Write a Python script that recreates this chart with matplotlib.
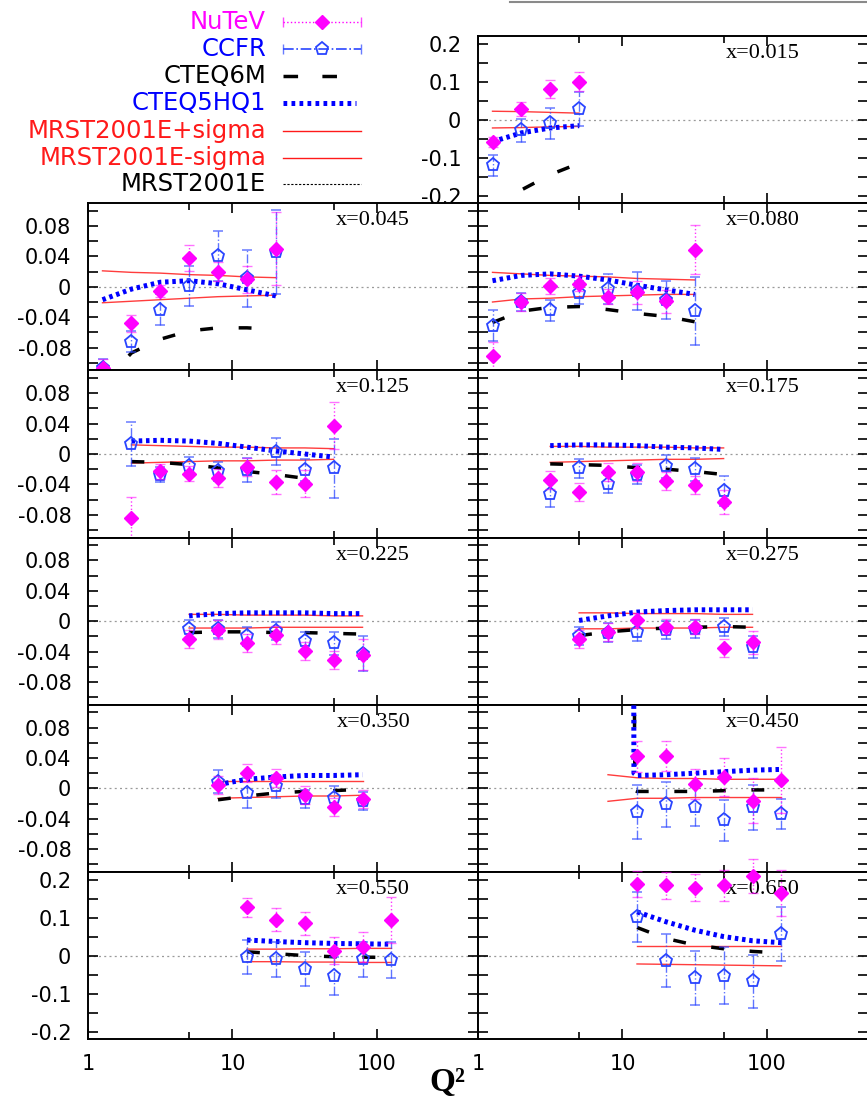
import matplotlib
matplotlib.use("Agg")
import matplotlib.pyplot as plt
from matplotlib.lines import Line2D
from matplotlib.ticker import FixedLocator, MultipleLocator, FuncFormatter, NullFormatter

plt.rcParams['font.family'] = 'DejaVu Sans'
plt.rcParams['axes.unicode_minus'] = False

# x-bin of each panel, in drawing order (top-right first, then row by row)
x_bins = ["0.015", "0.045", "0.080", "0.125", "0.175", "0.225",
          "0.275", "0.350", "0.450", "0.550", "0.650"]

# Q^2 of the data points in each panel
q_data = [
    [1.26, 2.0, 3.16, 5.01],
    [1.26, 2.0, 3.16, 5.01, 7.94, 12.6, 20.0],
    [1.26, 2.0, 3.16, 5.01, 7.94, 12.6, 20.0, 31.6],
    [2.0, 3.16, 5.01, 7.94, 12.6, 20.0, 31.6, 50.1],
    [3.16, 5.01, 7.94, 12.6, 20.0, 31.6, 50.1],
    [5.01, 7.94, 12.6, 20.0, 31.6, 50.1, 79.4],
    [5.01, 7.94, 12.6, 20.0, 31.6, 50.1, 79.4],
    [7.94, 12.6, 20.0, 31.6, 50.1, 79.4],
    [12.6, 20.0, 31.6, 50.1, 79.4, 125.9],
    [12.6, 20.0, 31.6, 50.1, 79.4, 125.9],
    [12.6, 20.0, 31.6, 50.1, 79.4, 125.9],
]

nutev = [
    [-0.059, 0.027, 0.081, 0.100],
    [-0.107, -0.048, -0.005, 0.038, 0.020, 0.010, 0.050],
    [-0.091, -0.020, 0.001, 0.004, -0.013, -0.007, -0.019, 0.049],
    [-0.084, -0.023, -0.026, -0.032, -0.017, -0.037, -0.039, 0.037],
    [-0.034, -0.050, -0.024, -0.024, -0.036, -0.041, -0.063],
    [-0.023, -0.011, -0.029, -0.018, -0.039, -0.051, -0.044],
    [-0.023, -0.014, 0.001, -0.007, -0.007, -0.035, -0.028],
    [0.004, 0.020, 0.014, -0.009, -0.024, -0.014],
    [0.042, 0.043, 0.006, 0.015, -0.016, 0.011],
    [0.127, 0.095, 0.085, 0.013, 0.022, 0.093],
    [0.188, 0.185, 0.179, 0.185, 0.209, 0.165],
]
nutev_err = [
    [0.012, 0.018, 0.024, 0.025],
    [0.012, 0.011, 0.008, 0.017, 0.012, 0.018, 0.048],
    [0.018, 0.012, 0.010, 0.010, 0.010, 0.015, 0.015, 0.032],
    [0.028, 0.010, 0.010, 0.012, 0.012, 0.016, 0.018, 0.031],
    [0.012, 0.012, 0.012, 0.012, 0.012, 0.012, 0.016],
    [0.012, 0.012, 0.012, 0.012, 0.012, 0.012, 0.020],
    [0.012, 0.012, 0.010, 0.010, 0.010, 0.012, 0.015],
    [0.012, 0.012, 0.012, 0.012, 0.012, 0.012],
    [0.020, 0.020, 0.020, 0.025, 0.030, 0.044],
    [0.025, 0.030, 0.030, 0.035, 0.040, 0.060],
    [0.035, 0.035, 0.035, 0.040, 0.045, 0.060],
]

ccfr = [
    [-0.120, -0.028, -0.010, 0.027],
    [-0.107, -0.072, -0.030, 0.001, 0.041, 0.011, 0.046],
    [-0.051, -0.020, -0.031, -0.008, -0.003, -0.006, -0.018, -0.032],
    [0.013, -0.027, -0.016, -0.023, -0.021, 0.003, -0.021, -0.019],
    [-0.052, -0.019, -0.039, -0.027, -0.016, -0.020, -0.049],
    [-0.010, -0.010, -0.020, -0.013, -0.026, -0.029, -0.043],
    [-0.019, -0.015, -0.014, -0.012, -0.010, -0.008, -0.034],
    [0.009, -0.006, 0.003, -0.014, -0.012, -0.017],
    [-0.031, -0.021, -0.024, -0.042, -0.025, -0.034],
    [-0.004, -0.010, -0.036, -0.053, -0.010, -0.011],
    [0.102, -0.013, -0.059, -0.053, -0.068, 0.057],
]
ccfr_err = [
    [0.028, 0.030, 0.040, 0.045],
    [0.012, 0.014, 0.020, 0.026, 0.033, 0.037, 0.055],
    [0.020, 0.012, 0.014, 0.015, 0.020, 0.025, 0.025, 0.045],
    [0.029, 0.010, 0.012, 0.013, 0.016, 0.018, 0.015, 0.039],
    [0.018, 0.012, 0.012, 0.012, 0.015, 0.015, 0.020],
    [0.012, 0.012, 0.012, 0.012, 0.012, 0.015, 0.023],
    [0.012, 0.012, 0.012, 0.012, 0.012, 0.012, 0.014],
    [0.015, 0.020, 0.015, 0.012, 0.015, 0.012],
    [0.036, 0.030, 0.026, 0.027, 0.030, 0.020],
    [0.045, 0.045, 0.045, 0.050, 0.045, 0.047],
    [0.066, 0.070, 0.070, 0.075, 0.070, 0.070],
]

# theory curves: Q^2 grid (None -> same as data) and values
cteq5_q = [None] * 8 + [[11.9, 12.0, 12.6, 20.0, 31.6, 50.1, 79.4, 125.9], None, None]
cteq5 = [
    [-0.058, -0.035, -0.022, -0.016],
    [-0.017, -0.003, 0.006, 0.008, 0.004, -0.004, -0.012],
    [0.008, 0.015, 0.017, 0.014, 0.009, 0.002, -0.004, -0.010],
    [0.017, 0.018, 0.017, 0.014, 0.009, 0.004, 0.000, -0.004],
    [0.011, 0.012, 0.012, 0.011, 0.009, 0.008, 0.006],
    [0.007, 0.010, 0.011, 0.011, 0.011, 0.010, 0.010],
    [0.001, 0.007, 0.012, 0.014, 0.015, 0.015, 0.015],
    [0.005, 0.012, 0.015, 0.017, 0.017, 0.018],
    [0.300, 0.020, 0.017, 0.018, 0.020, 0.022, 0.024, 0.025],
    [0.041, 0.037, 0.034, 0.032, 0.031, 0.030],
    [0.115, 0.089, 0.067, 0.050, 0.039, 0.034],
]

cteq6_q = [None, None, None, [2.0, 3.16, 5.01, 7.94, 12.6, 20.0, 31.6]] + [None] * 4 + \
          [[11.9, 12.2, 12.6, 20.0, 31.6, 50.1, 79.4, 125.9], None, None]
cteq6 = [
    [-0.245, -0.185, -0.145, -0.115],
    [-0.128, -0.087, -0.069, -0.058, -0.054, -0.054, -0.056],
    [-0.047, -0.032, -0.027, -0.026, -0.030, -0.035, -0.039, -0.046],
    [-0.010, -0.011, -0.014, -0.018, -0.023, -0.027, -0.032],
    [-0.013, -0.014, -0.015, -0.018, -0.020, -0.023, -0.027],
    [-0.015, -0.014, -0.014, -0.015, -0.015, -0.016, -0.017],
    [-0.019, -0.014, -0.011, -0.009, -0.008, -0.007, -0.008],
    [-0.015, -0.010, -0.006, -0.004, -0.003, -0.001],
    [0.300, -0.003, -0.004, -0.004, -0.004, -0.003, -0.002, -0.002],
    [0.010, 0.005, 0.000, -0.003, -0.004, -0.005],
    [0.074, 0.045, 0.028, 0.018, 0.011, 0.007],
]

mrst_q = [None] * 8 + [[7.94, 12.6, 20.0, 31.6, 50.1, 79.4, 125.9], None, None]
mrst_up = [
    [0.022, 0.021, 0.019, 0.017],
    [0.021, 0.019, 0.018, 0.016, 0.015, 0.013, 0.012],
    [0.019, 0.017, 0.015, 0.014, 0.013, 0.011, 0.010, 0.009],
    [0.012, 0.011, 0.010, 0.009, 0.009, 0.008, 0.008, 0.007],
    [0.010, 0.010, 0.009, 0.009, 0.009, 0.008, 0.008],
    [0.009, 0.009, 0.008, 0.008, 0.008, 0.007, 0.007],
    [0.011, 0.011, 0.010, 0.010, 0.010, 0.009, 0.009],
    [0.010, 0.010, 0.010, 0.010, 0.010, 0.010],
    [0.018, 0.014, 0.013, 0.013, 0.012, 0.012, 0.012],
    [0.017, 0.017, 0.018, 0.018, 0.019, 0.019],
    [0.025, 0.025, 0.025, 0.025, 0.025, 0.025],
]
mrst_dn = [
    [-0.022, -0.021, -0.019, -0.018],
    [-0.021, -0.019, -0.017, -0.015, -0.013, -0.012, -0.011],
    [-0.020, -0.016, -0.015, -0.013, -0.012, -0.011, -0.010, -0.010],
    [-0.012, -0.011, -0.010, -0.009, -0.009, -0.008, -0.008, -0.007],
    [-0.011, -0.010, -0.009, -0.008, -0.007, -0.007, -0.006],
    [-0.009, -0.009, -0.009, -0.008, -0.008, -0.008, -0.008],
    [-0.010, -0.010, -0.009, -0.009, -0.009, -0.008, -0.008],
    [-0.013, -0.012, -0.011, -0.010, -0.010, -0.009],
    [-0.017, -0.013, -0.013, -0.012, -0.012, -0.012, -0.012],
    [-0.016, -0.016, -0.017, -0.017, -0.018, -0.018],
    [-0.022, -0.023, -0.024, -0.025, -0.026, -0.027],
]

legend_labels = ["NuTeV", "CCFR", "CTEQ6M", "CTEQ5HQ1",
                 "MRST2001E+sigma", "MRST2001E-sigma", "MRST2001E"]

MAG = '#ff00ff'
BLUE = '#0000ff'
CCFR_BLUE = '#2a45ff'
RED = '#ff1a1a'

W, H = 867, 1101
fig = plt.figure(figsize=(W / 100, H / 100), dpi=100)


def px_box(x0, y0, w, h):
    return [x0 / W, 1 - (y0 + h) / H, w / W, h / H]


col_x = [88, 478]
panel_w = 390
top0 = 36
row_h = 167.2

yfmt = FuncFormatter(lambda v, p: '0' if abs(v) < 1e-9 else '%g' % round(v, 3))

for i, xb in enumerate(x_bins):
    row, col = (i + 1) // 2, (i + 1) % 2
    ax = fig.add_axes(px_box(col_x[col], top0 + row * row_h, panel_w, row_h))
    ax.set_xscale('log')
    ax.set_xlim(1, 500)
    wide = row in (0, 5)
    if wide:
        ax.set_ylim(-0.22, 0.22)
        ax.yaxis.set_major_locator(MultipleLocator(0.1))
        ax.yaxis.set_minor_locator(MultipleLocator(0.05))
    else:
        ax.set_ylim(-0.11, 0.11)
        ax.yaxis.set_major_locator(MultipleLocator(0.04))
        ax.yaxis.set_minor_locator(MultipleLocator(0.02))
    ax.xaxis.set_major_locator(FixedLocator([1, 10, 100]))
    ax.xaxis.set_minor_locator(FixedLocator([5, 50]))
    ax.xaxis.set_minor_formatter(NullFormatter())
    ax.xaxis.set_major_formatter(FuncFormatter(lambda v, p: '%d' % v))
    ax.yaxis.set_major_formatter(yfmt)
    ax.tick_params(which='both', direction='in', top=True, right=True, width=1.2,
                   labelsize=15, colors='black')
    ax.tick_params(axis='y', which='both', length=7, pad=12)
    ax.tick_params(axis='x', which='major', length=7, pad=11)
    ax.tick_params(axis='x', which='minor', length=5)
    ax.tick_params(axis='y', labelleft=(col == 0 or i == 0))
    ax.tick_params(axis='x', labelbottom=(row == 5))
    for sp in ax.spines.values():
        sp.set_linewidth(1.4)

    qd = q_data[i]
    # MRST2001E central value is the reference line at zero
    ax.axhline(0, color='#9a9a9a', lw=0.9, dashes=(1.6, 2.6), zorder=1)
    qm = mrst_q[i] or qd
    ax.plot(qm, mrst_up[i], color=RED, lw=1.0, alpha=0.85, zorder=2)
    ax.plot(qm, mrst_dn[i], color=RED, lw=1.0, alpha=0.85, zorder=2)
    q6 = cteq6_q[i] or qd
    ax.plot(q6, cteq6[i], color='black', lw=2.5, dashes=(3.7, 7.4),
            solid_capstyle='butt', dash_capstyle='butt', zorder=3)
    q5 = cteq5_q[i] or qd
    ax.plot(q5, cteq5[i], color=BLUE, lw=3.6, dashes=(0.7, 0.75),
            dash_capstyle='butt', zorder=4)

    eb = ax.errorbar(qd, ccfr[i], yerr=ccfr_err[i], fmt='p', ms=9.5, mfc='none',
                     mec=CCFR_BLUE, mew=1.3, ecolor=CCFR_BLUE, elinewidth=1.0,
                     capsize=3.5, capthick=1.0, zorder=5)
    eb[2][0].set_linestyle('-.')
    eb[2][0].set_alpha(0.75)
    for a in eb[1]:
        a.set_alpha(0.6)
    for a in [eb[0], *eb[1], *eb[2]]:
        a.set_clip_on(False)
    eb = ax.errorbar(qd, nutev[i], yerr=nutev_err[i], fmt='D', ms=6.8, color=MAG,
                     ecolor=MAG, elinewidth=1.0, capsize=3.5, capthick=1.0, zorder=6)
    eb[2][0].set_linestyle(':')
    eb[2][0].set_alpha(0.8)
    for a in eb[1]:
        a.set_alpha(0.55)
    for a in [eb[0], *eb[1], *eb[2]]:
        a.set_clip_on(False)

    ax.text(0.826, 0.895, 'x=' + xb, transform=ax.transAxes, ha='right', va='center',
            family='Liberation Serif', fontsize=16)

fig.text(447 / W, 1 - 1082 / H, 'Q²', ha='center', va='center',
         family='Liberation Serif', fontweight='bold', fontsize=24)

# legend in the empty top-left cell
leg = fig.add_axes(px_box(0, 0, 430, 200))
leg.set_xlim(0, 430)
leg.set_ylim(200, 0)
leg.axis('off')
leg_y = [22, 49, 76, 103, 131, 158, 184]
leg_colors = [MAG, BLUE, 'black', BLUE, RED, RED, 'black']
for lab, c, y in zip(legend_labels, leg_colors, leg_y):
    leg.text(266, y, lab, color=c, ha='right', va='center', fontsize=17.5)
x0, x1, xm = 283, 361, 322
leg.plot([x0, x1], [leg_y[0]] * 2, color=MAG, lw=1.0, ls=':')
leg.plot([x0, x1], [leg_y[0]] * 2, ls='none', marker='|', ms=7, color=MAG, alpha=0.7)
leg.plot([xm], [leg_y[0]], marker='D', ms=6.8, color=MAG)
leg.plot([x0, x1], [leg_y[1]] * 2, color=CCFR_BLUE, lw=1.2, ls='-.')
leg.plot([x0, x1], [leg_y[1]] * 2, ls='none', marker='|', ms=7, color=CCFR_BLUE, alpha=0.7)
leg.plot([xm], [leg_y[1]], marker='p', ms=9.5, mfc='none', mec=CCFR_BLUE, mew=1.3)
leg.plot([x0, 338], [leg_y[2]] * 2, color='black', lw=2.5, dashes=(4.2, 7.0),
         dash_capstyle='butt')
leg.plot([x0, 356], [leg_y[3]] * 2, color=BLUE, lw=3.6, dashes=(0.75, 0.85),
         dash_capstyle='butt')
leg.plot([x0, x1], [leg_y[4]] * 2, color=RED, lw=1.0)
leg.plot([x0, x1], [leg_y[5]] * 2, color=RED, lw=1.0)
leg.plot([x0, x1], [leg_y[6]] * 2, color='black', lw=0.8, dashes=(2, 1.5))

# remnant rule at the very top of the original page
fig.add_artist(Line2D([510 / W, 1.0], [1 - 1.5 / H] * 2, color='#8a8a8a', lw=1.5))

fig.savefig('out.png', dpi=100)
